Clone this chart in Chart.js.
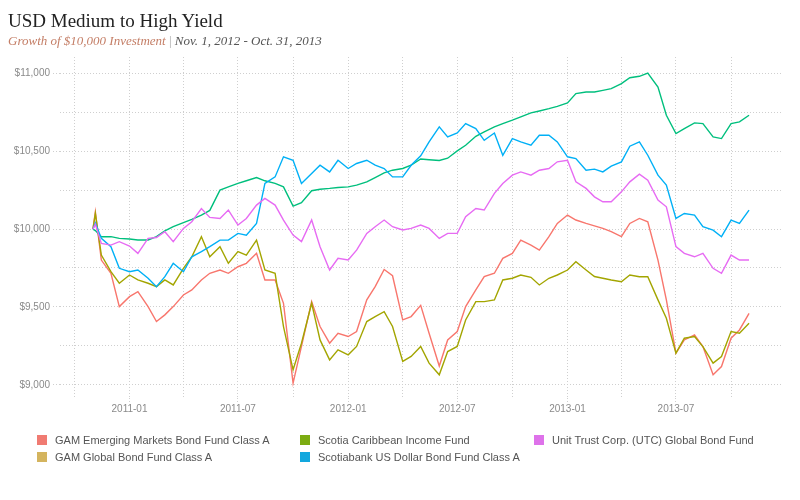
<!DOCTYPE html>
<html>
<head>
<meta charset="utf-8">
<script src="https://cdn.jsdelivr.net/npm/chart.js@4/dist/chart.umd.min.js"></script>
<style>
  body { margin: 0; background: #fff; }
  #wrap { position: relative; width: 800px; height: 500px; overflow: hidden; }
  #grafico { position: absolute; left: 0; top: 0; }
  #titulo { position: absolute; left: 8px; top: 10px; font-family: "Liberation Serif", "DejaVu Serif", serif; font-size: 19px; color: #222; white-space: nowrap; }
  #subtitulo { position: absolute; left: 8px; top: 33px; font-family: "Liberation Serif", "DejaVu Serif", serif; font-style: italic; font-size: 13px; color: #555; white-space: nowrap; }
  #subtitulo .crec { color: #c47e66; }
  #subtitulo .sep { color: #aaa; font-style: normal; }
  .leyenda { position: absolute; font-family: "Liberation Sans", Arial, sans-serif; font-size: 11px; color: #555; white-space: nowrap; line-height: 12px; }
  .leyenda span.caja { display: inline-block; width: 10px; height: 10px; vertical-align: -1px; margin-right: 8px; }
</style>
</head>
<body>
<div id="wrap">
  <canvas id="grafico" width="800" height="500"></canvas>
  <div id="titulo">USD Medium to High Yield</div>
  <div id="subtitulo"><span class="crec">Growth of $10,000 Investment</span> <span class="sep">|</span> Nov. 1, 2012 - Oct. 31, 2013</div>
  <div id="leyenda"></div>
</div>
<script>
// --- DATOS ---
const fechas = [
  '2010-11-01','2010-11-05','2010-11-15','2010-12-01','2010-12-15',
  '2011-01-01','2011-01-15','2011-02-01','2011-02-15','2011-03-01','2011-03-15',
  '2011-04-01','2011-04-15','2011-05-01','2011-05-15','2011-06-01','2011-06-15',
  '2011-07-01','2011-07-15','2011-08-01','2011-08-15','2011-09-01','2011-09-15',
  '2011-10-01','2011-10-15','2011-11-01','2011-11-15','2011-12-01','2011-12-15',
  '2012-01-01','2012-01-15','2012-02-01','2012-02-15','2012-03-01','2012-03-15',
  '2012-04-01','2012-04-15','2012-05-01','2012-05-15','2012-06-01','2012-06-15',
  '2012-07-01','2012-07-15','2012-08-01','2012-08-15','2012-09-01','2012-09-15',
  '2012-10-01','2012-10-15','2012-11-01','2012-11-15','2012-12-01','2012-12-15',
  '2013-01-01','2013-01-15','2013-02-01','2013-02-15','2013-03-01','2013-03-15',
  '2013-04-01','2013-04-15','2013-05-01','2013-05-15','2013-06-01','2013-06-15',
  '2013-07-01','2013-07-15','2013-08-01','2013-08-15','2013-09-01','2013-09-15',
  '2013-10-01','2013-10-15','2013-10-31'
];

const gamEmergentes = [
  10000,10110,9801,9716,9502,
  9566,9598,9502,9406,9449,9502,
  9577,9609,9673,9716,9737,9716,
  9758,9780,9844,9673,9673,9523,
  9010,9246,9534,9374,9267,9331,
  9310,9342,9545,9630,9740,9700,
  9417,9438,9510,9331,9120,9288,
  9342,9502,9609,9694,9716,9812,
  9844,9929,9897,9865,9951,10036,
  10090,10058,10036,10020,10004,9983,
  9951,10036,10068,10047,9801,9545,
  9203,9288,9320,9245,9064,9117,
  9299,9352,9459
];

const gamGlobal = [
  10000,10100,9833,9726,9652,
  9705,9673,9652,9630,9673,9641,
  9748,9822,9951,9822,9887,9780,
  9855,9833,9929,9737,9716,9374,
  9096,9267,9523,9288,9160,9224,
  9192,9246,9406,9438,9470,9374,
  9150,9182,9246,9139,9064,9213,
  9246,9416,9534,9534,9545,9673,
  9684,9705,9690,9641,9684,9705,
  9737,9790,9737,9695,9684,9673,
  9662,9705,9694,9694,9545,9427,
  9203,9299,9310,9245,9139,9181,
  9342,9331,9395
];

const scotiaCaribe = [
  10000,9990,9951,9951,9940,
  9936,9930,9930,9951,9989,10015,
  10041,10062,10090,10120,10250,10271,
  10293,10310,10331,10310,10293,10271,
  10147,10169,10246,10256,10261,10267,
  10271,10282,10303,10331,10361,10378,
  10389,10410,10450,10445,10440,10455,
  10502,10538,10596,10624,10656,10677,
  10699,10720,10746,10758,10773,10788,
  10810,10870,10880,10880,10891,10902,
  10934,10972,10981,11002,10912,10731,
  10613,10645,10682,10677,10592,10581,
  10677,10688,10731
];

const scotiaDolar = [
  10000,10040,9940,9887,9748,
  9726,9737,9684,9630,9694,9780,
  9726,9822,9855,9887,9929,9929,
  9972,9961,10036,10293,10335,10464,
  10442,10293,10357,10410,10367,10442,
  10389,10421,10442,10410,10389,10335,
  10335,10410,10470,10560,10656,10592,
  10617,10677,10645,10570,10617,10474,
  10581,10560,10538,10602,10602,10560,
  10464,10453,10378,10385,10367,10404,
  10431,10532,10560,10474,10346,10282,
  10068,10100,10090,10015,9993,9951,
  10058,10036,10122
];

const unitTrust = [
  10000,10030,9908,9897,9919,
  9891,9844,9940,9946,9983,9919,
  10004,10047,10132,10075,10068,10122,
  10026,10068,10154,10197,10154,10058,
  9961,9919,10058,9887,9737,9812,
  9801,9865,9972,10015,10058,10015,
  9994,10004,10026,10004,9940,9972,
  9972,10079,10132,10122,10229,10293,
  10346,10367,10346,10378,10389,10432,
  10442,10303,10261,10207,10175,10175,
  10239,10303,10352,10314,10186,10143,
  9887,9844,9822,9844,9748,9716,
  9833,9801,9801
];

const nombresSeries = [
  'GAM Emerging Markets Bond Fund Class A',
  'GAM Global Bond Fund Class A',
  'Scotia Caribbean Income Fund',
  'Scotiabank US Dollar Bond Fund Class A',
  'Unit Trust Corp. (UTC) Global Bond Fund'
];
const valoresSeries = [gamEmergentes, gamGlobal, scotiaCaribe, scotiaDolar, unitTrust];

const marcasX = ['2010-10-01','2011-01-01','2011-04-01','2011-07-01','2011-10-01','2012-01-01','2012-04-01','2012-07-01','2012-10-01','2013-01-01','2013-04-01','2013-07-01','2013-10-01'];
const etiquetasX = ['','2011-01','','2011-07','','2012-01','','2012-07','','2013-01','','2013-07',''];
const marcasY = [9000, 9250, 9500, 9750, 10000, 10250, 10500, 10750, 11000];
const etiquetasY = ['$9,000','','$9,500','','$10,000','','$10,500','','$11,000'];

// colores de las lineas y de la leyenda (no coinciden en el original)
const coloresLinea = ['#F8766D', '#A3A500', '#00BF7D', '#00B0F6', '#E76BF3'];
const coloresLeyenda = ['#f07b72', '#d4b45e', '#7cac12', '#12a7de', '#de72ea'];

// --- CONVERSION DE FECHAS ---
const BASE = Date.UTC(2011, 0, 1);
function aDias(f) {
    const [a, m, d] = f.split('-').map(Number);
    return (Date.UTC(a, m - 1, d) - BASE) / 86400000;
}
const diasX = fechas.map(aDias);
const marcasXDias = marcasX.map(aDias);

const datasets = valoresSeries.map((vals, i) => ({
    label: nombresSeries[i],
    data: vals.map((v, j) => ({ x: diasX[j], y: v })),
    borderColor: coloresLinea[i],
    backgroundColor: coloresLinea[i],
    borderWidth: 1.4,
    pointRadius: 0,
    tension: 0,
    order: 5 - i
}));

const fuenteEje = { family: "'Liberation Sans', Arial, sans-serif", size: 10 };

new Chart(document.getElementById('grafico').getContext('2d'), {
    type: 'line',
    data: { datasets: datasets },
    options: {
        responsive: false,
        animation: false,
        layout: { padding: { left: 0, top: 57, right: 18, bottom: 82 } },
        plugins: { legend: { display: false }, tooltip: { enabled: false } },
        scales: {
            x: {
                type: 'linear',
                min: -116,
                max: 1089,
                afterFit: s => { s.height = 20; },
                afterBuildTicks: s => { s.ticks = marcasXDias.map(v => ({ value: v })); },
                ticks: {
                    autoSkip: false, maxRotation: 0, padding: 1,
                    color: '#8a8a8a', font: fuenteEje,
                    callback: (v, i) => etiquetasX[i]
                },
                grid: {
                    color: '#cfcfcf', lineWidth: 1, tickLength: 4,
                    tickColor: c => etiquetasX[c.index] ? '#cfcfcf' : 'rgba(0,0,0,0)',
                    tickBorderDash: [1, 2]
                },
                border: { display: false, dash: [1, 2] }
            },
            y: {
                type: 'linear',
                min: 8915,
                max: 11105,
                afterFit: s => { s.width = 60; },
                afterBuildTicks: s => { s.ticks = marcasY.map(v => ({ value: v })); },
                ticks: {
                    autoSkip: false, padding: 3,
                    color: '#8a8a8a', font: fuenteEje,
                    callback: (v, i) => etiquetasY[i]
                },
                grid: {
                    color: '#cfcfcf', lineWidth: 1, tickLength: 7,
                    tickColor: c => etiquetasY[c.index] ? '#cfcfcf' : 'rgba(0,0,0,0)',
                    tickBorderDash: [1, 2]
                },
                border: { display: false, dash: [1, 2] }
            }
        }
    }
});

// --- LEYENDA (en columnas, como el original) ---
const posLeyenda = [
    { x: 37, y: 434 }, { x: 37, y: 451 },
    { x: 300, y: 434 }, { x: 300, y: 451 },
    { x: 534, y: 434 }
];
const contLeyenda = document.getElementById('leyenda');
nombresSeries.forEach((n, i) => {
    const div = document.createElement('div');
    div.className = 'leyenda';
    div.style.left = posLeyenda[i].x + 'px';
    div.style.top = posLeyenda[i].y + 'px';
    div.innerHTML = `<span class="caja" style="background:${coloresLeyenda[i]}"></span>${n}`;
    contLeyenda.appendChild(div);
});
</script>
</body>
</html>
